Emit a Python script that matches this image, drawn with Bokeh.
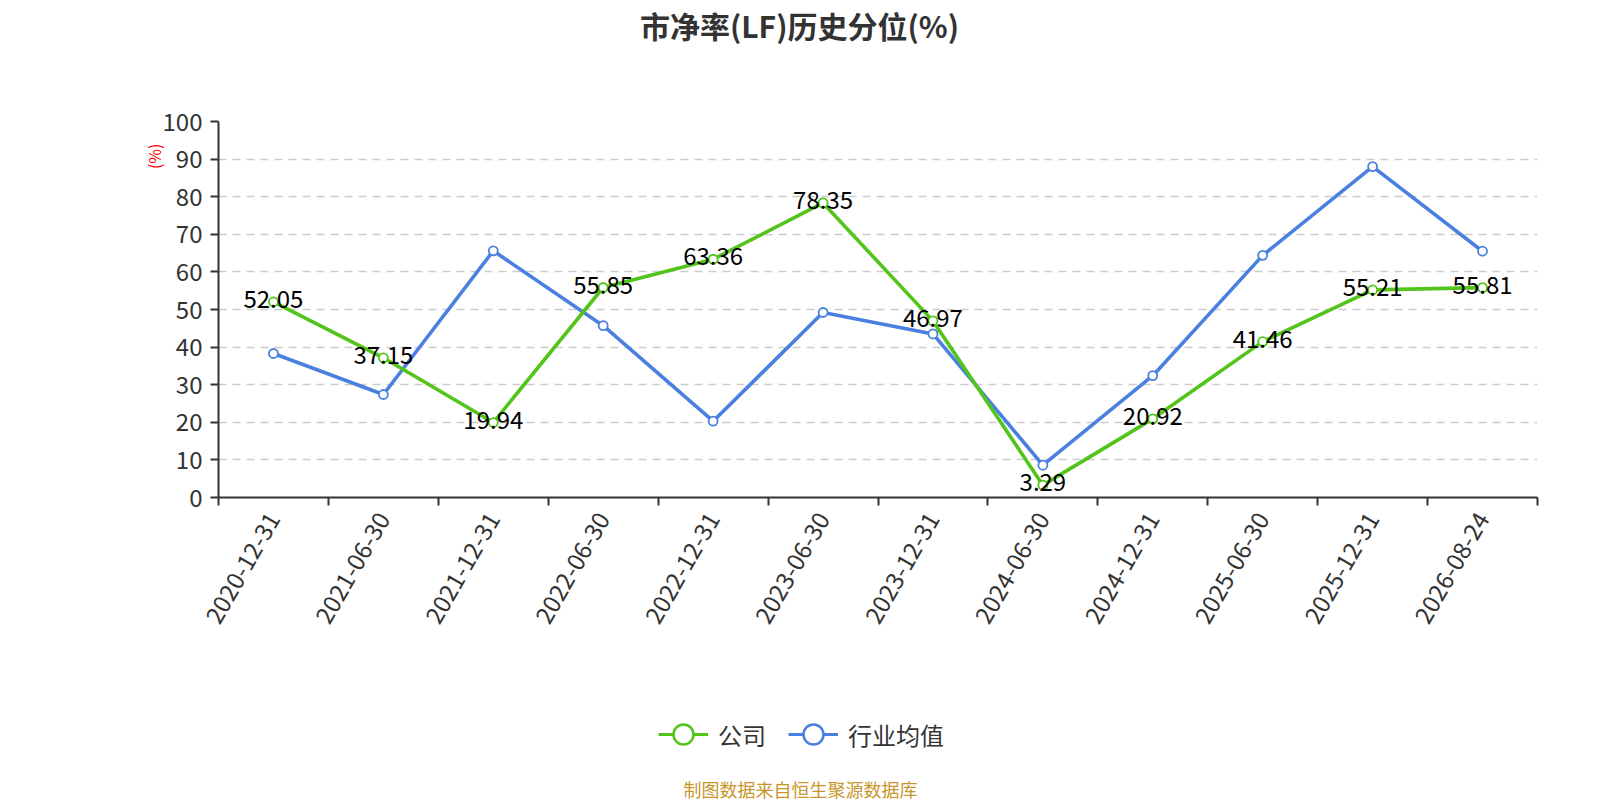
import math
from bokeh.plotting import figure
from bokeh.layouts import column
from bokeh.models import (Legend, LegendItem, LinearAxis, FixedTicker,
                          Range1d, ColumnDataSource, Title, Label)
from bokeh.core.properties import value
from bokeh.embed import file_html
from bokeh.resources import INLINE

# ---- data ----
dates = ["2020-12-31", "2021-06-30", "2021-12-31", "2022-06-30", "2022-12-31",
         "2023-06-30", "2023-12-31", "2024-06-30", "2024-12-31", "2025-06-30",
         "2025-12-31", "2026-08-24"]
company = [52.05, 37.15, 19.94, 55.85, 63.36, 78.35, 46.97, 3.29, 20.92, 41.46,
           55.21, 55.81]
industry = [38.3, 27.4, 65.6, 45.7, 20.3, 49.2, 43.5, 8.6, 32.4, 64.4, 88.0, 65.5]
y_ticks = [0, 10, 20, 30, 40, 50, 60, 70, 80, 90, 100]
series_names = ["公司", "行业均值"]
title_text = "市净率(LF)历史分位(%)"
y_name = "(%)"
footer_text = "制图数据来自恒生聚源数据库"

GREEN = "#52c41a"
BLUE = "#4a80e0"
TXT = "#333333"
FONT = "Noto Sans CJK SC"
LEFT, RIGHT = 218, 1537   # page x of plot frame edges

xs = [i + 0.5 for i in range(len(dates))]
src = ColumnDataSource(dict(x=xs, company=company, industry=industry,
                            lbl=[f"{v:.2f}" for v in company]))


def strip(h):
    f = figure(width=1600, height=h, x_range=Range1d(LEFT, RIGHT),
               y_range=Range1d(0, h), output_backend="svg",
               toolbar_location=None, x_axis_type=None, y_axis_type=None,
               min_border_left=LEFT, min_border_right=1600 - RIGHT,
               min_border_top=0, min_border_bottom=0)
    f.outline_line_color = None
    f.xgrid.visible = False
    f.ygrid.visible = False
    return f


# ================= title strip =================
t = strip(101)
t.add_layout(Label(x=799, y=101 - 24, text=title_text, text_align="center",
                   text_baseline="middle", text_font_size="30px",
                   text_font_style="bold", text_color=TXT, text_font=FONT))

# ================= main chart =================
p = figure(width=1600, height=559, x_range=Range1d(0, len(dates)),
           y_range=Range1d(0, 100), output_backend="svg", toolbar_location=None,
           min_border_left=LEFT, min_border_right=1600 - RIGHT, min_border_top=20,
           min_border_bottom=163)
p.outline_line_color = None
p.background_fill_color = "white"

# x axis #1: boundary tick marks only
xa = p.xaxis[0]
xa.ticker = FixedTicker(ticks=list(range(len(dates) + 1)))
xa.major_label_overrides = {i: "" for i in range(len(dates) + 1)}
xa.major_label_text_font_size = "0px"
xa.major_label_standoff = 0
xa.major_tick_out = 8
xa.major_tick_in = 0
xa.minor_tick_line_color = None
xa.axis_line_color = TXT
xa.axis_line_width = 2
xa.major_tick_line_color = TXT
xa.major_tick_line_width = 2

# x axis #2: category labels
xl = LinearAxis(ticker=FixedTicker(ticks=xs),
                major_label_overrides={x: d for x, d in zip(xs, dates)},
                major_label_orientation=math.pi / 3,
                major_label_standoff=3,
                major_label_text_font_size="24px",
                major_label_text_color=TXT,
                major_label_text_font=FONT,
                axis_line_color=None, major_tick_line_color=None,
                minor_tick_line_color=None)
p.add_layout(xl, "below")

# y axis
ya = p.yaxis[0]
ya.ticker = FixedTicker(ticks=y_ticks)
ya.major_tick_out = 8
ya.major_tick_in = 0
ya.minor_tick_line_color = None
ya.axis_line_color = TXT
ya.axis_line_width = 2
ya.major_tick_line_color = TXT
ya.major_tick_line_width = 2
ya.major_label_text_font_size = "24px"
ya.major_label_text_color = TXT
ya.major_label_text_font = FONT
ya.major_label_standoff = 8

p.add_layout(Title(text=y_name, align="right", offset=22, standoff=-12,
                   text_font_size="16px", text_font_style="normal",
                   text_color="red", text_font=FONT), "left")

p.xgrid.grid_line_color = None
p.ygrid.ticker = FixedTicker(ticks=y_ticks[1:])
p.ygrid.grid_line_color = "#cccccc"
p.ygrid.grid_line_width = 1.5
p.ygrid.grid_line_dash = "8 6"

b_line = p.line("x", "industry", source=src, line_color=BLUE, line_width=3.6)
b_pts = p.scatter("x", "industry", source=src, size=9, fill_color="white",
                  line_color=BLUE, line_width=1.8)
g_line = p.line("x", "company", source=src, line_color=GREEN, line_width=3.6)
g_pts = p.scatter("x", "company", source=src, size=9, fill_color="white",
                  line_color=GREEN, line_width=1.8)
p.text("x", "company", text="lbl", source=src, text_align="center",
       text_baseline="middle", text_font_size="24px", text_color="black",
       text_font=value(FONT), y_offset=-3)

# ================= legend + footer strip =================
q = strip(140)
nan = float("nan")
lg_line = q.line([nan], [nan], line_color=GREEN, line_width=3)
lg_pts = q.scatter([nan], [nan], size=9, fill_color="white", line_color=GREEN,
                   line_width=2.5)
lb_line = q.line([nan], [nan], line_color=BLUE, line_width=3)
lb_pts = q.scatter([nan], [nan], size=9, fill_color="white", line_color=BLUE,
                   line_width=2.5)

legend = Legend(items=[LegendItem(label=series_names[0], renderers=[lg_line, lg_pts]),
                       LegendItem(label=series_names[1], renderers=[lb_line, lb_pts])],
                location=(658 - LEFT, 41), orientation="horizontal",
                glyph_width=50, glyph_height=50, label_standoff=10, spacing=22,
                padding=0, margin=0, border_line_color=None,
                background_fill_alpha=0, label_text_font_size="24px",
                label_text_color=TXT, label_text_font=FONT)
q.add_layout(legend)

q.add_layout(Label(x=800, y=12, text=footer_text, text_align="center",
                   text_baseline="middle", text_font_size="18px",
                   text_color="#c8962b", text_font=FONT))

open("out.html", "w").write(file_html(column(t, p, q, spacing=0), INLINE))
